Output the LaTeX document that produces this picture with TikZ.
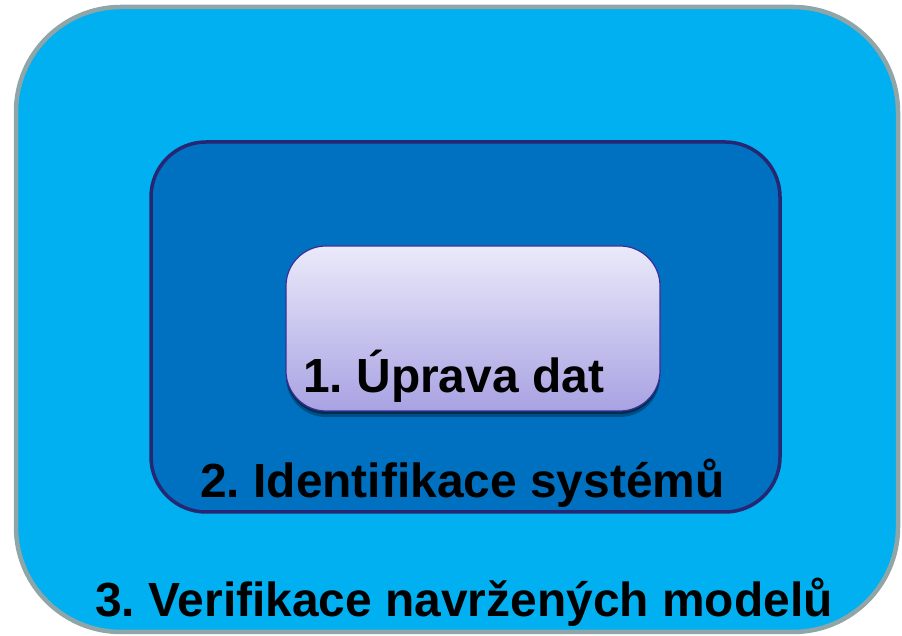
\documentclass[tikz,border=0pt]{standalone}
\usepackage{fontspec}
\setmainfont{Liberation Sans}
\usetikzlibrary{shadows}
\frenchspacing
\definecolor{outerblue}{HTML}{00B0F0}
\definecolor{outergray}{HTML}{8FA5A8}
\definecolor{midblue}{HTML}{0070C0}
\definecolor{midnavy}{HTML}{262673}
\definecolor{lavtop}{HTML}{EAEAFA}
\definecolor{lavbot}{HTML}{A8A2E2}
\definecolor{lavline}{HTML}{3B2E9A}
\begin{document}
\begin{tikzpicture}[x=1pt,y=1pt,
  box/.style={draw, rectangle, inner sep=0pt},
  lbl/.style={anchor=base west, inner sep=0pt, font=\fontsize{47.9}{58}\selectfont\bfseries}]
\useasboundingbox (0,0) rectangle (902,636);
\node (outer) at (457,316.5) [box, rounded corners=105pt, fill=outerblue, draw=outergray, line width=4.5pt, minimum width=882pt, minimum height=625pt] {};
\node (mid) at (465.5,309) [box, rounded corners=55pt, fill=midblue, draw=midnavy, line width=3.5pt, minimum width=629pt, minimum height=370pt] {};
\node (inner) at (473,307.5) [box, rounded corners=40pt, top color=lavtop, bottom color=lavbot, draw=lavline, line width=1.2pt, minimum width=374pt, minimum height=165pt,
  drop shadow={opacity=0.3, fill=black, shadow xshift=0pt, shadow yshift=-6pt},
  drop shadow={opacity=0.4, fill=black, shadow xshift=0pt, shadow yshift=-3pt}] {};
\node (t1) at (303,243) [lbl] {1. Úprava dat};
\node (t2) at (200,138) [lbl] {2. Identifikace systémů};
\node (t3) at (95,19) [lbl] {3. Verifikace navržených modelů};
\end{tikzpicture}
\end{document}
